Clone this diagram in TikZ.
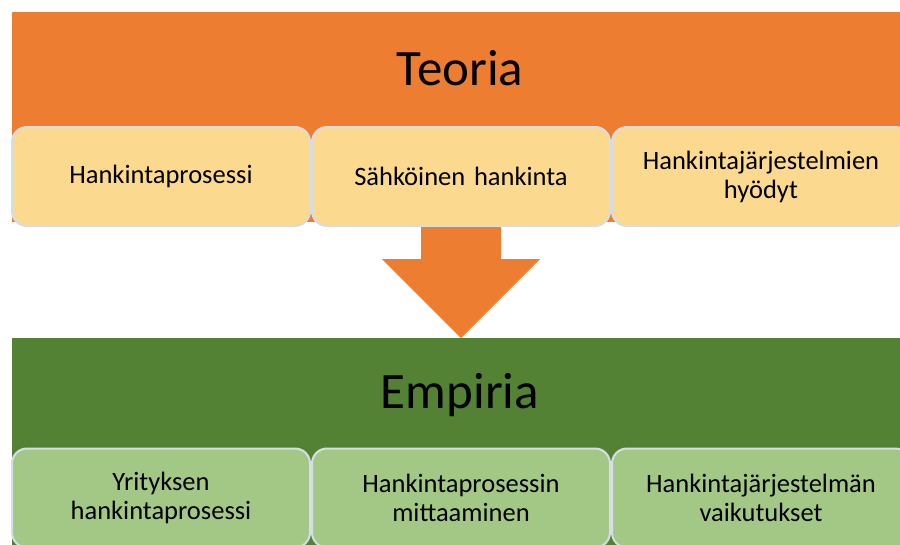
\documentclass[tikz,border=0pt]{standalone}
\usepackage{fontspec}
\setmainfont{Carlito}
\usetikzlibrary{positioning,calc}
\definecolor{teoriaorange}{HTML}{ED7D31}
\definecolor{teorialight}{HTML}{FBD98F}
\definecolor{empiriagreen}{HTML}{548235}
\definecolor{empirialight}{HTML}{A3C885}
\definecolor{boxedge}{HTML}{D6DDE8}

\begin{document}
\begin{tikzpicture}[x=1pt,y=-1pt]
  \tikzstyle{band}=[rectangle, minimum width=888pt, minimum height=210pt, inner sep=0pt, anchor=north west]
  \tikzstyle{topic}=[rectangle, rounded corners=15pt, draw=boxedge, line width=2pt, minimum width=298pt, minimum height=99pt, align=center, text width=285pt, font=\fontsize{26.5}{29}\selectfont]
  \tikzstyle{title}=[font=\fontsize{51}{58}\selectfont]

  \useasboundingbox (0,0) rectangle (900,544);
  \clip (0,0) rectangle (900,544);

  % Teoria
  \node[band, fill=teoriaorange] (tband) at (12,12) {};
  \node[title] (teoria) at (460,68) {Teoria};
  \node[topic, fill=teorialight] (t1) at (161,176.5) {Hankintaprosessi};
  \node[topic, fill=teorialight, right=0pt of t1] (t2) {Sähköinen hankinta};
  \node[topic, fill=teorialight, right=0pt of t2] (t3) {Hankintajärjestelmien\\hyödyt};

  % Empiria
  \node[band, fill=empiriagreen] (eband) at (12,338) {};
  \node[title] (empiria) at (460,395) {Empiria};
  \node[topic, fill=empirialight] (e1) at (161,498) {Yrityksen\\hankintaprosessi};
  \node[topic, fill=empirialight, right=0pt of e1] (e2) {Hankintaprosessin\\mittaaminen};
  \node[topic, fill=empirialight, right=0pt of e2] (e3) {Hankintajärjestelmän\\vaikutukset};

  % Nuoli
  \fill[teoriaorange] ($(t2.south)+(-40,0)$) -- ++(80,0) -- ++(0,32) -- ++(39,0)
    -- (t2.south |- eband.north) -- ++(-79,-79) -- ++(39,0) -- cycle;
\end{tikzpicture}
\end{document}
